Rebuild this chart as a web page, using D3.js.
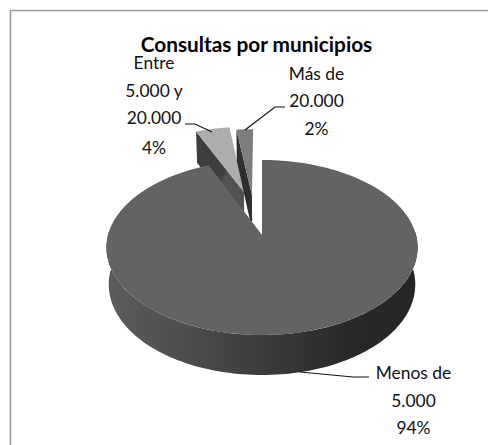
<!DOCTYPE html>
<html><head><meta charset="utf-8">
<script src="https://cdn.jsdelivr.net/npm/d3@7"></script>
<style>html,body{margin:0;padding:0;background:#fff}svg{display:block}text{font-family:Lato,"Open Sans",sans-serif;fill:#111}</style>
</head><body><svg id="c" width="488" height="445"></svg>
<script>
const categories = ["Menos de 5.000", "Entre 5.000 y 20.000", "Más de 20.000"];
const values = [93.6, 4.3, 2.1];
const labelLines = [["Menos de","5.000"],["Entre","5.000 y","20.000"],["Más de","20.000"]];
const titleText = "Consultas por municipios";
const topColors = ["#636363","#adadad","#7d7d7d"];
const wallColors = ["#3a3a3a","#474747","#2f2f2f"];
const explode = [[0,0],[-0.126,0.54],[-0.07,0.5]];

const svg = d3.select("#c");
svg.append("path").attr("d","M10.5,445V10.5H488").attr("fill","none").attr("stroke","#9a9a9a").attr("stroke-width",1.6);

const cx=262,cy=235,rx=154,a=85.7,k=0.143,depthBack=33,depthFront=40,shrink=0.985;
const sx=d3.scaleLinear().domain([-1,1]).range([cx-rx,cx+rx]);
const sy=d3.scaleLinear().domain([-1,1]).range([cy+a,cy-a]);
function proj(u,v,h){
  const w=1+k*v, px=sx(u/w), py=sy(v/w);
  if(!h) return [px,py];
  const d=depthBack+(depthFront-depthBack)*(1-v)/2;
  return [cx+(px-cx)*shrink, py+d];
}
const pie=d3.pie().sort(null).value(d=>d)(values);
const defs=svg.append("defs");
const g=defs.append("linearGradient").attr("id","rim").attr("gradientUnits","userSpaceOnUse").attr("x1",cx-rx).attr("x2",cx+rx).attr("y1",0).attr("y2",0);
[[0,"#5c5c5c"],[0.3,"#4a4a4a"],[0.55,"#383838"],[0.8,"#282828"],[1,"#252525"]].forEach(s=>g.append("stop").attr("offset",s[0]).attr("stop-color",s[1]));
const wg=defs.append("linearGradient").attr("id","wall1").attr("x1",0).attr("x2",1).attr("y1",0).attr("y2",1);
[[0,"#3d3d3d"],[0.5,"#3f3f3f"],[0.55,"#525252"],[1,"#525252"]].forEach(s=>wg.append("stop").attr("offset",s[0]).attr("stop-color",s[1]));

const line=d3.line();
function arcPts(s,e,o,h,n=120){
  return d3.range(n+1).map(i=>{const t=s+(e-s)*i/n;return proj(o[0]+Math.sin(t),o[1]+Math.cos(t),h);});
}
[1,2,0].forEach(i=>{
  const p=pie[i],o=explode[i],s=p.startAngle,e=p.endAngle;
  const G=svg.append("g").attr("class","slice").attr("data-name",categories[i]);
  if(i===0){
    const a0=Math.PI/2*0.97,a1=Math.PI*1.5*1.01;
    const outer=arcPts(a0,a1,o,0),under=arcPts(a0,a1,o,1).reverse();
    G.append("path").attr("d",line(outer.concat(under))+"Z").attr("fill","url(#rim)");
  } else {
    const ap=proj(o[0],o[1]),apB=proj(o[0],o[1],1);
    const c=proj(o[0]+Math.sin(s),o[1]+Math.cos(s)),cB=proj(o[0]+Math.sin(s),o[1]+Math.cos(s),1);
    G.append("path").attr("d",line([c,ap,apB,cB])+"Z").attr("fill",i===1?"url(#wall1)":wallColors[i]);
  }
  const top=[proj(o[0],o[1])].concat(arcPts(s,e,o,0));
  G.append("path").attr("d",line(top)+"Z").attr("fill",topColors[i]);
});

svg.append("text").attr("x",256.5).attr("y",52).attr("text-anchor","middle").attr("font-size",20.8).attr("font-weight",700).style("fill","#000").text(titleText);

const lab=[{x:413.5,ys:[379,407,434]},{x:154,ys:[69,97,124,154]},{x:316.5,ys:[80,107,135]}];
categories.forEach((c,i)=>{
  const lines=labelLines[i].concat(Math.round(values[i])+"%");
  lines.forEach((t,j)=>svg.append("text").attr("x",lab[i].x).attr("y",lab[i].ys[j]).attr("text-anchor","middle").attr("font-size",17.4).text(t));
});
[[[369,377],[353,377],[300,372]],[[185,124],[195,124],[212,132]],[[285,107],[275,107],[245,130]]].forEach(l=>
  svg.append("path").attr("d",line(l)).attr("fill","none").attr("stroke","#111").attr("stroke-width",1.2));
</script></body></html>
